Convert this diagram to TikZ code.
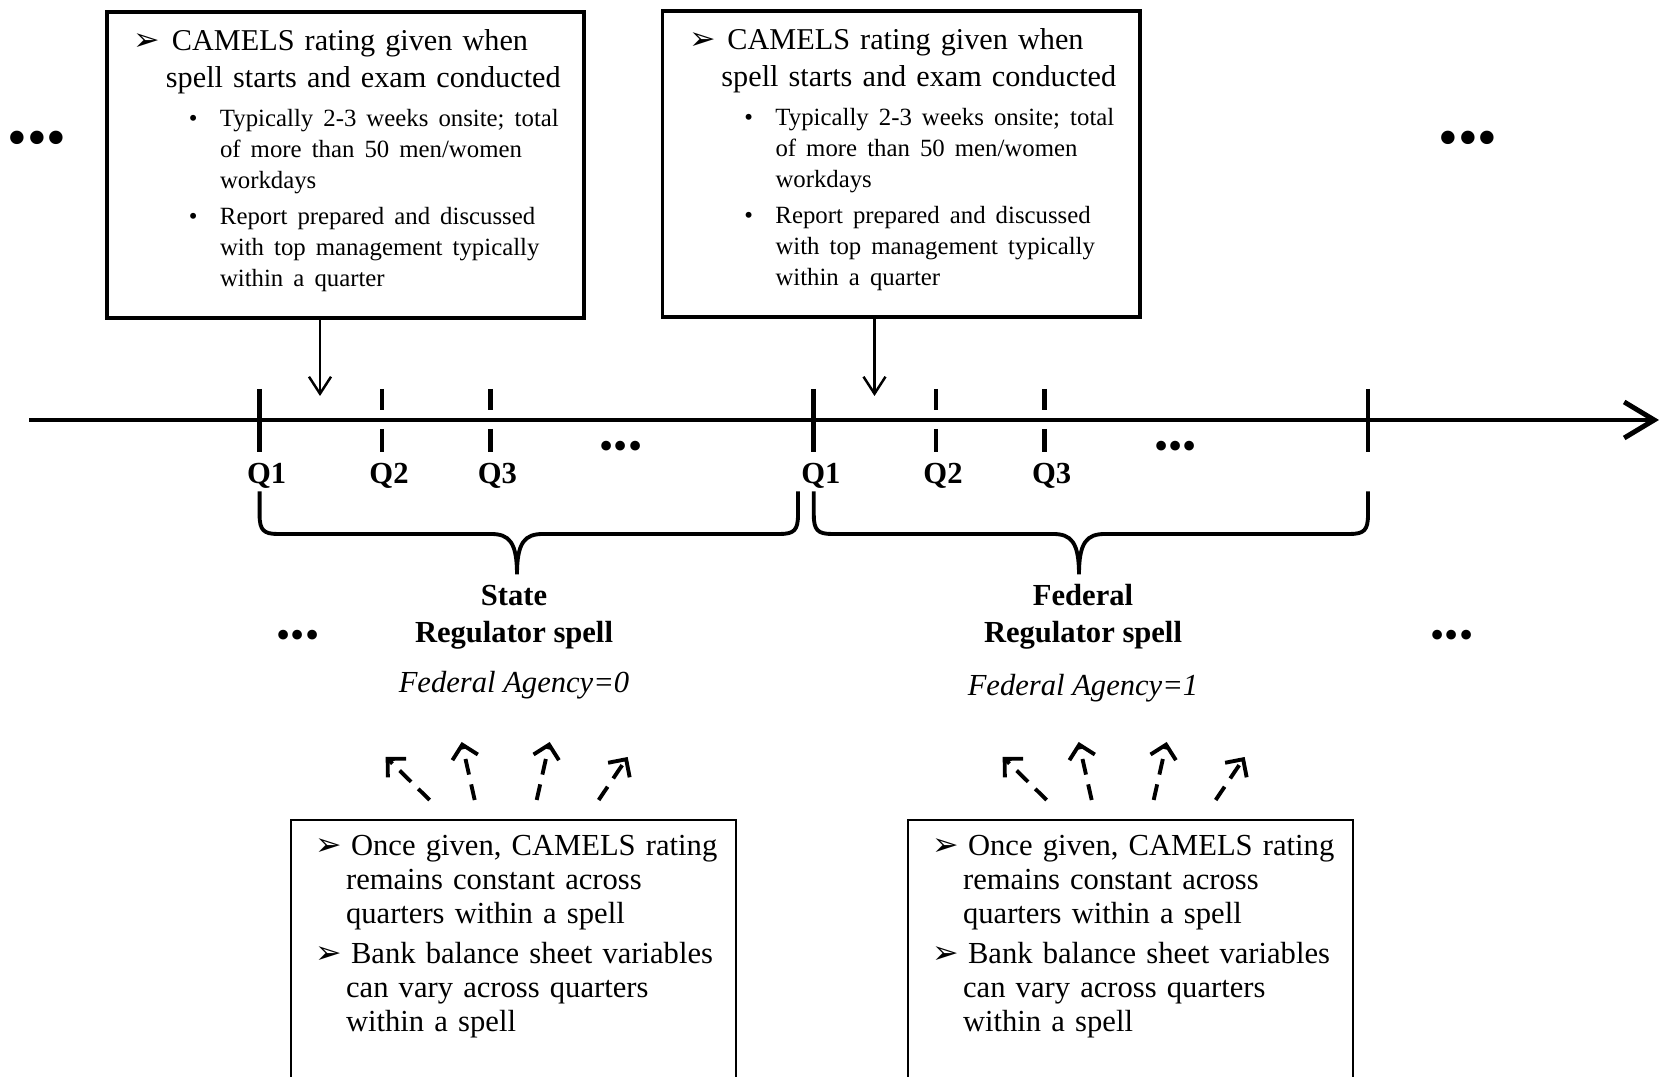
\documentclass[tikz,border=0pt]{standalone}
\usepackage{fontspec}
\setmainfont{Liberation Serif}
\newfontfamily\dingfont{DejaVu Sans}
\usetikzlibrary{arrows.meta,positioning}

\newcommand{\arrowbul}{{\dingfont\fontsize{9}{9}\selectfont ➢}}

\begin{document}
\begin{tikzpicture}[x=0.01cm,y=-0.01cm,
		exambox/.style={draw,line width=1.1pt,anchor=north west,inner xsep=0.27cm,
			inner ysep=0.175cm,text width=4.23cm,font=\fontsize{8.6}{10.3}\selectfont},
		rulebox/.style={draw,line width=0.6pt,anchor=north west,inner xsep=0.24cm,
			inner ysep=0.15cm,text width=3.97cm,font=\fontsize{8.7}{9.65}\selectfont},
		qlabel/.style={font=\fontsize{8.7}{8.7}\selectfont\bfseries},
		spelllabel/.style={align=center,font=\fontsize{8.7}{10.6}\selectfont\bfseries},
		agencylabel/.style={font=\fontsize{8.7}{8.7}\selectfont\itshape},
		bigdots/.style={font=\fontsize{16}{16}\selectfont,inner sep=0pt},
		smalldots/.style={font=\fontsize{11.5}{11.5}\selectfont,inner sep=0pt},
		examarrow/.style={line width=0.7pt,-{Straight Barb[length=0.17cm,width=0.22cm]}},
		fanarrow/.style={line width=1.1pt,dash pattern=on 0.16cm off 0.1cm,
			-{Straight Barb[length=0.13cm,width=0.26cm]}},
	]
	\useasboundingbox (0,0) rectangle (1668,1077);
	\clip (0,0) rectangle (1668,1077);

	% Exam boxes above the timeline
	\foreach \n/\x/\y in {1/105/10.5,2/660.5/9.5} {
		\node[exambox] (exam\n) at (\x,\y) {%
			\rightskip=-0.6cm\hyphenpenalty=10000
			\hangindent=0.32cm\hangafter=1
			\makebox[0.38cm][l]{\arrowbul}CAMELS rating given when\newline
			spell starts and exam conducted\par
			{\fontsize{7.05}{8.8}\selectfont\leftskip=0.86cm
			\vspace{2.4pt}\leavevmode\llap{\makebox[0.31cm][l]{\textbullet}}Typically 2-3 weeks onsite; total\newline
			of more than 50 men/women\newline
			workdays\par
			\vspace{1.6pt}\leavevmode\llap{\makebox[0.31cm][l]{\textbullet}}Report prepared and discussed\newline
			with top management typically\newline
			within a quarter\par}
			\nointerlineskip\hbox{\vrule width 0pt height 0.08cm}};
	}

	% Timeline with quarters
	\coordinate (tstart) at (29,420);
	\coordinate (tend) at (1659,420);
	\draw[line width=1.4pt,-{Straight Barb[length=0.3cm,width=0.36cm]}] (tstart) -- (tend);
	\foreach \x in {259.6,813.8,1368}
		\draw[line width=1.4pt] (\x,389) -- (\x,452);
	\foreach \x in {382,490.4,936,1044.6}
		\draw[line width=1.2pt] (\x,389) -- (\x,410) (\x,429) -- (\x,452);
	\foreach \x/\q [count=\i] in {259.6/1,382/2,490.4/3,813.8/1,936/2,1044.6/3}
		\node[qlabel] (q\i) at (\x+7,475.5) {Q\q};
	\node[smalldots] (qdots1) at (621,450) {•••};
	\node[smalldots] (qdots2) at (1175.5,450) {•••};

	% Exam start arrows
	\coordinate (start1) at (320,396);
	\coordinate (start2) at (874.5,396);
	\draw[examarrow] (exam1.south -| start1) -- (start1);
	\draw[examarrow] (exam2.south -| start2) -- (start2);

	% Spell braces
	\foreach \a/\m/\b in {259.6/517/798,813.8/1079/1368}
		\draw[line width=1.1pt] (\a,491.5) -- (\a,515) .. controls (\a,530) and (\a+4,534) .. (\a+18,534)
			-- (\m-26,534) .. controls (\m-8,534) and (\m,542) .. (\m,574.5)
			.. controls (\m,542) and (\m+8,534) .. (\m+26,534)
			-- (\b-18,534) .. controls (\b-4,534) and (\b,530) .. (\b,515) -- (\b,491.5);

	\node[spelllabel] (state) at (514,617) {State\\Regulator spell};
	\node[agencylabel] (agency0) at (514,685) {Federal Agency=0};
	\node[spelllabel] (federal) at (1083,617) {Federal\\Regulator spell};
	\node[agencylabel] (agency1) at (1083,688) {Federal Agency=1};

	% Continuation dots
	\node[bigdots] (dotsnw) at (37,143.5) {•••};
	\node[bigdots] (dotsne) at (1468,143.5) {•••};
	\node[smalldots] (dotsw) at (298,639) {•••};
	\node[smalldots] (dotse) at (1452,639) {•••};

	% Rule boxes below the spells
	\foreach \n/\x in {1/290,2/907} {
		\node[rulebox] (rule\n) at (\x,819) {%
			\rightskip=-0.6cm\hyphenpenalty=10000
			\hangindent=0.31cm\hangafter=1
			\makebox[0.36cm][l]{\arrowbul}Once given, CAMELS rating\newline
			remains constant across\newline
			quarters within a spell\par
			\vspace{1.85pt}
			\hangindent=0.31cm\hangafter=1
			\makebox[0.36cm][l]{\arrowbul}Bank balance sheet variables\newline
			can vary across quarters\newline
			within a spell\par
			\nointerlineskip\hbox{\vrule width 0pt height 3cm}};
		\foreach \sx/\ex/\ey in {-84/-128/-62,-39/-52/-77,23/36/-77,85/114/-62}
			\draw[fanarrow] ([shift={(\sx,-19)}]rule\n.north) -- ([shift={(\ex,\ey)}]rule\n.north);
	}
\end{tikzpicture}
\end{document}
